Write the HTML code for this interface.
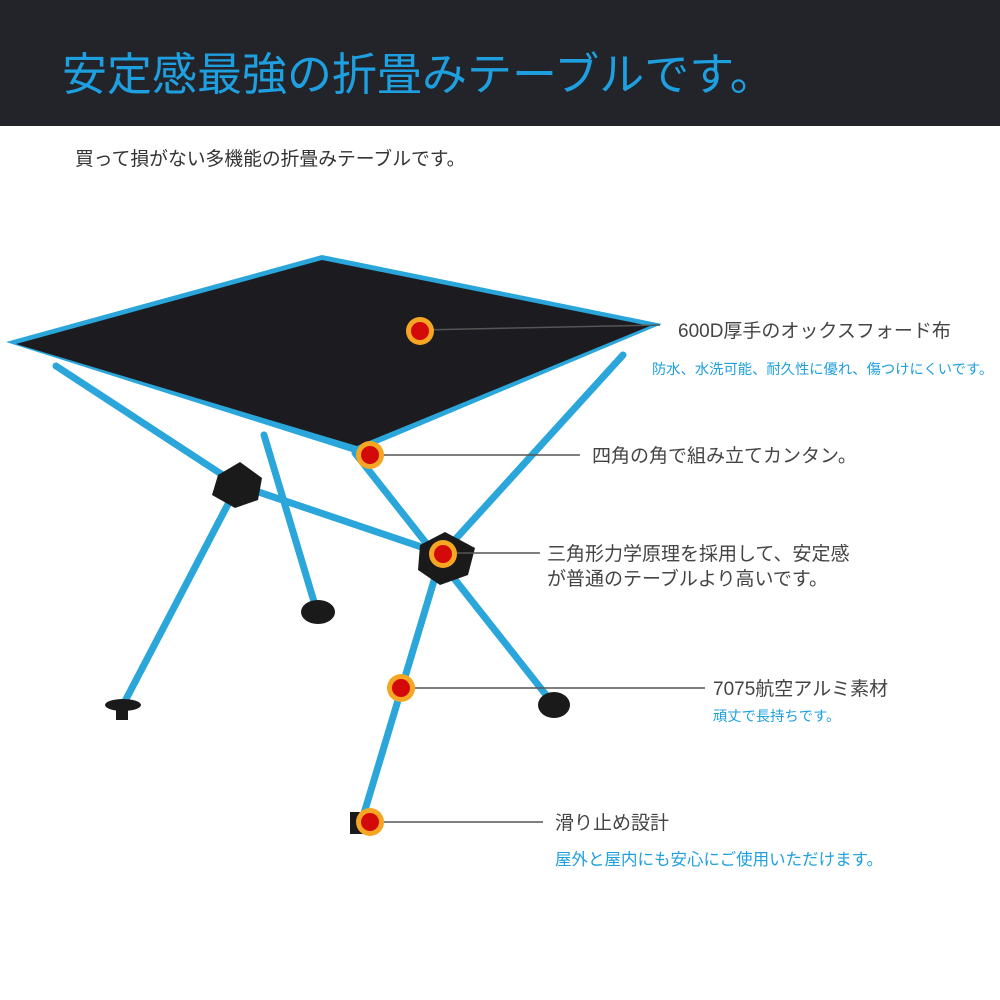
<!DOCTYPE html>
<html><head><meta charset="utf-8"><style>
html,body{margin:0;padding:0;width:1000px;height:1000px;background:#fff;overflow:hidden;font-family:"Liberation Sans","Noto Sans CJK JP",sans-serif}
</style></head><body>
<svg width="1000" height="1000" xmlns="http://www.w3.org/2000/svg" style="position:absolute;left:0;top:0">
<rect x="0" y="0" width="1000" height="126" fill="#222429"/>
<text x="62" y="90" font-size="45" fill="#1e9fe0" font-family="Liberation Sans, Noto Sans CJK JP, sans-serif">安定感最強の折畳みテーブルです。</text>
<text x="75" y="165" font-size="18.8" fill="#333" font-family="Liberation Sans, Noto Sans CJK JP, sans-serif">買って損がない多機能の折畳みテーブルです。</text>
<g stroke="#2aa6da" stroke-width="7" stroke-linecap="round">
<line x1="56" y1="366" x2="238" y2="485"/>
<line x1="238" y1="485" x2="123" y2="705"/>
<line x1="264" y1="435" x2="318" y2="615"/>
<line x1="238" y1="485" x2="442" y2="554"/>
<line x1="355" y1="453" x2="554" y2="705"/>
<line x1="623" y1="355" x2="442" y2="554"/>
<line x1="442" y1="554" x2="359" y2="830"/>
</g>
<g fill="#1a1a1a">
<polygon points="218,475 240,462 262,478 258,500 235,508 212,495"/>
<polygon points="420,545 445,532 475,548 468,575 440,585 418,570"/>
<ellipse cx="318" cy="612" rx="17" ry="12"/>
<ellipse cx="554" cy="705" rx="16" ry="13"/>
<ellipse cx="123" cy="705" rx="18" ry="6"/>
<rect x="116" y="700" width="12" height="20"/>
<rect x="350" y="812" width="14" height="22"/>
</g>
<polygon points="6,342 322,255 662,324 355,453" fill="#2aa6da"/>
<polygon points="16,344 322,260 650,326 357,446" fill="#1c1c20"/>
<g stroke="#555" stroke-width="1.5">
<line x1="420" y1="330" x2="660" y2="325"/>
<line x1="370" y1="455" x2="580" y2="455"/>
<line x1="443" y1="553" x2="540" y2="553"/>
<line x1="401" y1="688" x2="705" y2="688"/>
<line x1="370" y1="822" x2="543" y2="822"/>
</g>
<g>
<circle cx="420" cy="331" r="14" fill="#f5a623"/><circle cx="420" cy="331" r="9" fill="#d40a0a"/>
<circle cx="370" cy="455" r="14" fill="#f5a623"/><circle cx="370" cy="455" r="9" fill="#d40a0a"/>
<circle cx="443" cy="554" r="14" fill="#f5a623"/><circle cx="443" cy="554" r="9" fill="#d40a0a"/>
<circle cx="401" cy="688" r="14" fill="#f5a623"/><circle cx="401" cy="688" r="9" fill="#d40a0a"/>
<circle cx="370" cy="822" r="14" fill="#f5a623"/><circle cx="370" cy="822" r="9" fill="#d40a0a"/>
</g>
<g font-family="Liberation Sans, Noto Sans CJK JP, sans-serif" font-size="19" fill="#444">
<text x="678" y="337">600D厚手のオックスフォード布</text>
<text x="592" y="462">四角の角で組み立てカンタン。</text>
<text x="547" y="560">三角形力学原理を採用して、安定感</text>
<text x="547" y="585">が普通のテーブルより高いです。</text>
<text x="713" y="695">7075航空アルミ素材</text>
<text x="555" y="829">滑り止め設計</text>
</g>
<g font-family="Liberation Sans, Noto Sans CJK JP, sans-serif" font-size="14.3" fill="#1e9fe0">
<text x="652" y="374">防水、水洗可能、耐久性に優れ、傷つけにくいです。</text>
<text x="713" y="721">頑丈で長持ちです。</text>
<text x="555" y="865" font-size="16.5">屋外と屋内にも安心にご使用いただけます。</text>
</g>
</svg>
</body></html>
